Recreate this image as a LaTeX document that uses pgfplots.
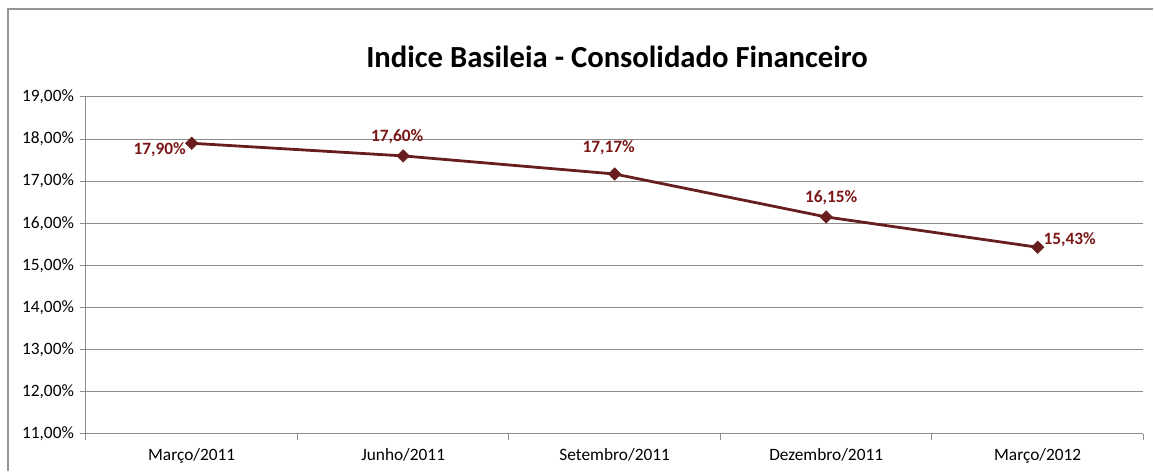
\documentclass[border=0pt]{standalone}
\usepackage{pgfplots}
\usepackage{pgfplotstable}
\usepackage{fontspec}
\setmainfont{Carlito}
\pgfplotsset{compat=1.18}

\definecolor{linecol}{RGB}{104,30,30}
\definecolor{labcol}{RGB}{122,22,22}
\definecolor{gridcol}{RGB}{140,140,140}
\definecolor{framecol}{RGB}{150,150,150}

% x y dx dy (label offsets in pt)
\pgfplotstableread{
x y dx dy
0 17.90 -24 -4.5
1 17.60 -4.5 14.25
2 17.17 -4.5 19.5
3 16.15 3.75 14.25
4 15.43 24 6
}\basileia

\begin{document}
\begin{tikzpicture}
\begin{axis}[
    scale only axis, width=793.5pt, height=252.75pt,
    xmin=-0.5, xmax=4.5, ymin=11, ymax=19,
    axis x line*=bottom, axis y line*=left,
    axis line style={gridcol, line width=0.75pt, -},
    tick align=outside, major tick length=4.5pt,
    tick style={gridcol, line width=0.75pt},
    xtick={-0.5,0.5,1.5,2.5,3.5,4.5},
    xticklabels={Março/2011,Junho/2011,Setembro/2011,Dezembro/2011,Março/2012,{}},
    xticklabel style={xshift=79.35pt, yshift=-3pt, font=\fontsize{13}{15}\selectfont},
    ytick={11,12,...,19},
    yticklabel={\pgfmathprintnumber[fixed,fixed zerofill,precision=2,use comma,assume math mode=true]{\tick}\%},
    yticklabel style={font=\fontsize{13}{15}\selectfont, xshift=-1pt},
    ymajorgrids, grid style={gridcol, line width=0.75pt},
    clip=false,
    point meta=y,
    visualization depends on={\thisrow{dx}\as\mydx},
    visualization depends on={\thisrow{dy}\as\mydy},
    nodes near coords={\pgfmathprintnumber[fixed,fixed zerofill,precision=2,use comma,assume math mode=true]{\pgfplotspointmeta}\%},
    every node near coord/.append style={anchor=center, xshift=\mydx pt, yshift=\mydy pt,
        font=\fontsize{13}{15}\selectfont\bfseries, text=labcol},
]
\addplot[linecol, line width=2.1pt, mark=square*, mark size=3.3pt,
    mark options={rotate=45, fill=linecol, draw=linecol, line width=0.4pt}] table[x=x, y=y] {\basileia};
\coordinate (ll) at (rel axis cs:0,0);
\end{axis}
\pgfresetboundingbox
\begin{scope}[shift={(ll)}, xshift=-64.5pt, yshift=-27.75pt, x=1pt, y=1pt]
\path (0,0) rectangle (865.5,353.25);
\draw[framecol, line width=0.9pt] (6,0) -- (6,346.5) -- (865.5,346.5);
\node[font=\fontsize{23}{27}\selectfont\bfseries] at (463,310.5) {Indice Basileia - Consolidado Financeiro};
\end{scope}
\end{tikzpicture}
\end{document}
